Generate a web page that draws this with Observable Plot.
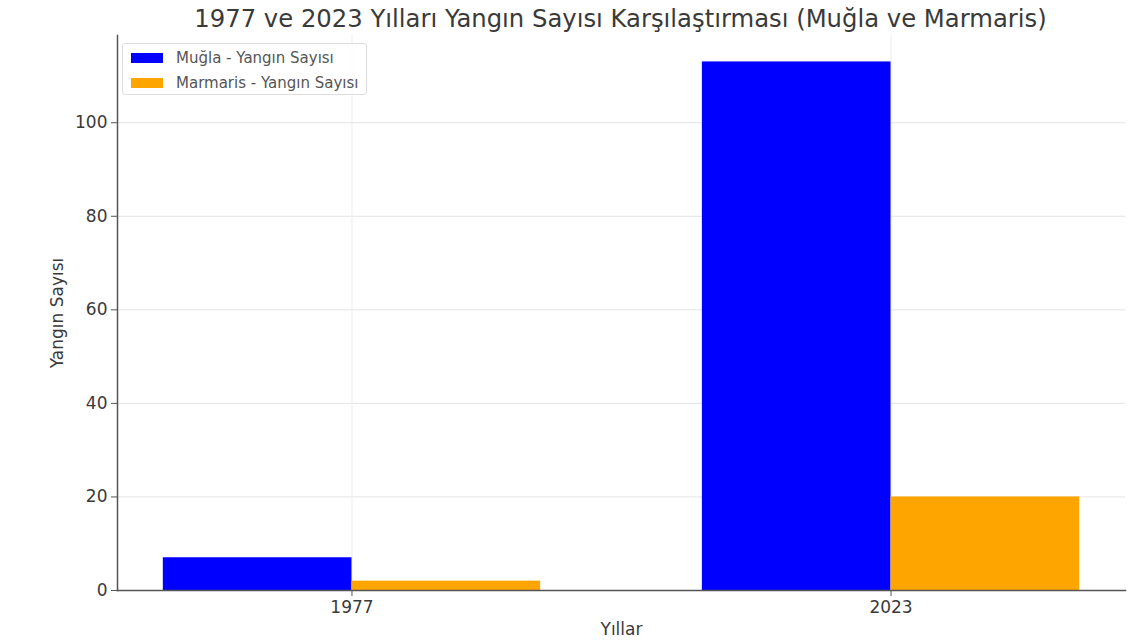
<!DOCTYPE html>
<html>
<head>
<meta charset="utf-8">
<script src="https://cdn.jsdelivr.net/npm/d3@7"></script>
<script src="https://cdn.jsdelivr.net/npm/@observablehq/plot@0.6"></script>
<style>
  html, body { margin: 0; padding: 0; background: #fff; }
  #wrap { position: relative; width: 1129px; height: 643px; font-family: "DejaVu Sans", sans-serif; }
  #title { height: 30px; padding-top: 4px; line-height: 30px; font-size: 24.3px; color: #3a3a3a; text-align: center; padding-left: 112px; width: 1017px; white-space: nowrap; }
  #legend { position: absolute; left: 122px; top: 43px; width: 243px; height: 50px; border: 1px solid #ddd; border-radius: 3px; background: rgba(255,255,255,0.8); font-size: 15px; color: #555; }
  .row { position: absolute; left: 8px; height: 20px; display: flex; align-items: center; }
  .sw { width: 32px; height: 10px; margin-right: 13px; }
</style>
</head>
<body>
<div id="wrap">
  <div id="title">1977 ve 2023 Yılları Yangın Sayısı Karşılaştırması (Muğla ve Marmaris)</div>
  <div id="chart"></div>
  <div id="legend"></div>
</div>
<script>
const years = ["1977", "2023"];
const seriesNames = ["Muğla - Yangın Sayısı", "Marmaris - Yangın Sayısı"];
const muglaValues = [7, 113];
const marmarisValues = [2, 20];
const seriesColors = ["#0000ff", "#ffa500"];
const yTicks = [0, 20, 40, 60, 80, 100];

const seriesValues = [muglaValues, marmarisValues];
const rows = [];
years.forEach((year, i) => {
  seriesNames.forEach((s, j) => {
    rows.push({i, j, year, series: s, value: seriesValues[j][i]});
  });
});

const barW = 0.35;
const span = (years.length - 1) + 2 * barW;
const xDomain = [-barW - 0.05 * span, years.length - 1 + barW + 0.05 * span];
const yMax = d3.max(rows, d => d.value) * 1.05;

const chart = Plot.plot({
  width: 1129,
  height: 609,
  marginTop: 1,
  marginBottom: 53,
  marginLeft: 117,
  marginRight: 4,
  style: { fontFamily: "DejaVu Sans, sans-serif", fontSize: "17px", color: "#3a3a3a", background: "#fff" },
  x: { type: "linear", domain: xDomain },
  y: { domain: [0, yMax] },
  color: { domain: seriesNames, range: seriesColors },
  marks: [
    Plot.gridY(yTicks, { stroke: "#e3e3e3", strokeOpacity: 1, strokeWidth: 1 }),
    Plot.gridX(d3.range(years.length), { stroke: "#ececec", strokeOpacity: 1, strokeWidth: 1 }),
    Plot.rectY(rows, {
      x1: d => d.i + (d.j - 1) * barW,
      x2: d => d.i + d.j * barW,
      y: "value",
      fill: "series",
      inset: 0
    }),
    Plot.frame({ anchor: "left", stroke: "#555", strokeWidth: 1.5 }),
    Plot.frame({ anchor: "bottom", stroke: "#555", strokeWidth: 1.5 }),
    Plot.axisY(yTicks, {
      tickSize: 6, tickPadding: 4, stroke: "#555", fill: "#3a3a3a",
      label: "Yangın Sayısı", labelAnchor: "center", labelArrow: "none", labelOffset: 67
    }),
    Plot.axisX(d3.range(years.length), {
      tickSize: 6, tickPadding: 4, stroke: "#555", fill: "#3a3a3a",
      tickFormat: i => years[i],
      label: "Yıllar", labelAnchor: "center", labelArrow: "none", labelOffset: 44
    })
  ]
});
document.getElementById("chart").appendChild(chart);

const legend = document.getElementById("legend");
seriesNames.forEach((s, j) => {
  const row = document.createElement("div");
  row.className = "row";
  row.style.top = (4 + j * 25) + "px";
  const sw = document.createElement("div");
  sw.className = "sw";
  sw.style.background = seriesColors[j];
  const t = document.createElement("span");
  t.textContent = s;
  row.appendChild(sw);
  row.appendChild(t);
  legend.appendChild(row);
});
</script>
</body>
</html>
